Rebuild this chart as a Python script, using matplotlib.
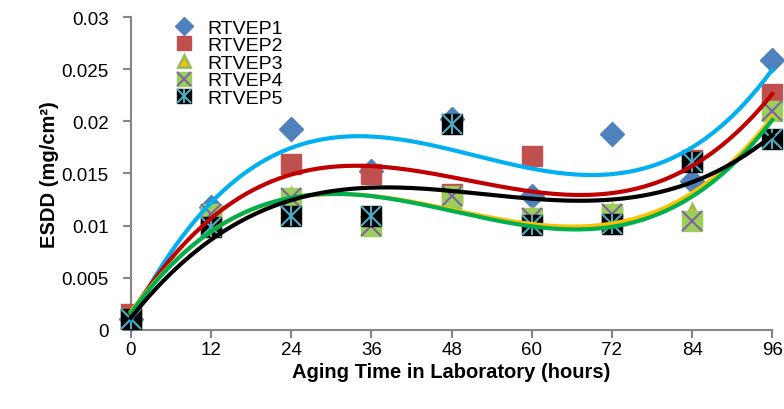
import numpy as np
from matplotlib import pyplot as plt
from matplotlib.ticker import FuncFormatter

plt.rcParams['font.family'] = ['Liberation Sans', 'DejaVu Sans']

hours = [0, 12, 24, 36, 48, 60, 72, 84, 96]
rtvep1 = [0.0010, 0.0118, 0.0193, 0.0152, 0.0202, 0.0128, 0.0188, 0.0143, 0.0259]
rtvep2 = [0.0015, 0.0105, 0.0159, 0.0149, 0.0130, 0.0167, 0.0108, 0.0163, 0.0226]
rtvep3 = [0.0010, 0.0112, 0.0128, 0.0101, 0.0125, 0.0109, 0.0113, 0.0113, 0.0210]
rtvep4 = [0.0010, 0.0111, 0.0126, 0.0100, 0.0128, 0.0107, 0.0111, 0.0104, 0.0210]
rtvep5 = [0.0010, 0.0099, 0.0109, 0.0109, 0.0197, 0.0101, 0.0102, 0.0161, 0.0183]
names = ["RTVEP1", "RTVEP2", "RTVEP3", "RTVEP4", "RTVEP5"]
trend_colors = ["#00B0F0", "#C00000", "#FFC000", "#00B050", "#000000"]

fig = plt.figure(figsize=(7.84, 4.10), dpi=100)
ax = fig.add_axes([0.167, 0.193, 0.818, 0.763])

series = [rtvep1, rtvep2, rtvep3, rtvep4, rtvep5]
kw = dict(zorder=3, clip_on=False, ls='none')
# markers
h1, = ax.plot(hours, rtvep1, 'D', ms=12, color="#4F81BD", mec="#4F81BD", **kw)
h2, = ax.plot(hours, rtvep2, 's', ms=14, color="#C0504D", mec="#C0504D", **kw)
h3, = ax.plot(hours, rtvep3, '^', ms=11, color="#FFC000", mec="#9BBB59", mew=2, **kw)
h4a, = ax.plot(hours, rtvep4, 's', ms=14, color="#9BCF5A", mec="#9BCF5A", **kw)
h4b, = ax.plot(hours, rtvep4, 'x', ms=14, color="#8064A2", mew=1.5, **kw)
h5a, = ax.plot(hours, rtvep5, 's', ms=14, color="#000000", **kw)
h5c, = ax.plot(hours, rtvep5, 'x', ms=14, color="#4BACC6", mew=1.5, **kw)
h5d, = ax.plot(hours, rtvep5, '|', ms=14, color="#4BACC6", mew=1.5, **kw)

# polynomial trendlines
xs = np.linspace(0, 96, 300)
for vals, c in zip(series, trend_colors):
    p = np.polyfit(hours, vals, 3)
    ax.plot(xs, np.polyval(p, xs), color=c, lw=3, zorder=4, clip_on=False)

ax.set_xlim(0, 96)
ax.set_ylim(0, 0.03)
ax.set_xticks(hours)
ax.set_yticks(np.arange(0, 0.0301, 0.005))
ax.yaxis.set_major_formatter(FuncFormatter(lambda v, pos: "%g" % round(v, 4)))
for s in ['top', 'right']:
    ax.spines[s].set_visible(False)
for s in ['left', 'bottom']:
    ax.spines[s].set_color("#868686")
    ax.spines[s].set_linewidth(1.5)
ax.tick_params(colors="#868686", labelcolor="black", labelsize=13.5, length=6, width=1.5)
ax.tick_params(axis='y', pad=10)
ax.tick_params(axis='x', pad=2)
ax.set_xlabel("Aging Time in Laboratory (hours)", fontsize=14.5, fontweight='bold', labelpad=3)
ax.set_ylabel("ESDD (mg/cm²)", fontsize=14.5, fontweight='bold', labelpad=2)

ax.legend([h1, h2, h3, (h4a, h4b), (h5a, h5c, h5d)], names, loc='upper left',
          bbox_to_anchor=(0.035, 1.05), frameon=False, fontsize=14,
          handletextpad=0.5, handlelength=1.4, labelspacing=0.0, markerscale=0.75)

fig.savefig("out.png", dpi=100)
